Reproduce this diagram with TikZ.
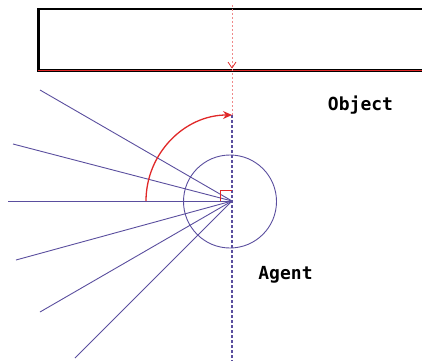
\documentclass[tikz,border=0pt]{standalone}
\usepackage{fontspec}
\newfontfamily\labelfont{DejaVu Sans Mono}
\usetikzlibrary{arrows.meta}
\definecolor{raycol}{HTML}{5A4E9E}
\definecolor{arccol}{HTML}{E02828}
\definecolor{pinkcol}{HTML}{F08A8A}
\tikzset{
  ray/.style={draw=raycol, line width=0.9pt},
  lbl/.style={font=\labelfont\bfseries\fontsize{18}{21}\selectfont, inner sep=0pt},
}
\begin{document}
\begin{tikzpicture}[x=1pt,y=-1pt]
\useasboundingbox (0,0) rectangle (422,361);
% object rectangle
\node[draw=black, line width=2.5pt, minimum width=400pt, minimum height=61pt, anchor=north west, inner sep=0pt] (obj) at (37,8) {};
\draw[arccol, line width=0.5pt] (obj.south west) ++(1.2,-1.3) -- ++(390,0);
% centre of agent
\coordinate (c) at (232,201);
\node[draw=raycol, line width=0.9pt, circle, minimum size=93pt, inner sep=0pt] (agent) at (230,201.5) {};
% rays
\coordinate (r1) at (40,90);
\coordinate (r2) at (13,144);
\coordinate (r3) at (8,201);
\coordinate (r4) at (16,260);
\coordinate (r5) at (40,312);
\coordinate (r6) at (75,358);
\foreach \r in {r1,r2,r3,r4,r5,r6} \draw[ray] (c) -- (\r);
% vertical lines
\coordinate (top) at (232,5);
\coordinate (hit) at (232,68);
\coordinate (tip) at (232,115);
\coordinate (bot) at (232,361);
\draw[pinkcol, line width=0.8pt, dash pattern=on 2pt off 2pt] (top) -- (tip);
\draw[raycol, line width=1.1pt, dash pattern=on 3pt off 2pt] (tip) -- (bot);
\draw[arccol, line width=0.8pt] (hit) -- ++(-4,-6) (hit) -- ++(4,-6);
% right angle mark
\draw[arccol, line width=0.8pt] (220,201) -- (220,190) -- (232,190);
% rotation arc
\draw[arccol, line width=1.3pt, -{Stealth[length=9pt,width=8pt]}] (146,201) arc[start angle=180, end angle=270, radius=86];
% labels
\node[lbl] (object) at (360.5,105) {Object};
\node[lbl] (agentlbl) at (285.5,274.5) {Agent};
\end{tikzpicture}
\end{document}
